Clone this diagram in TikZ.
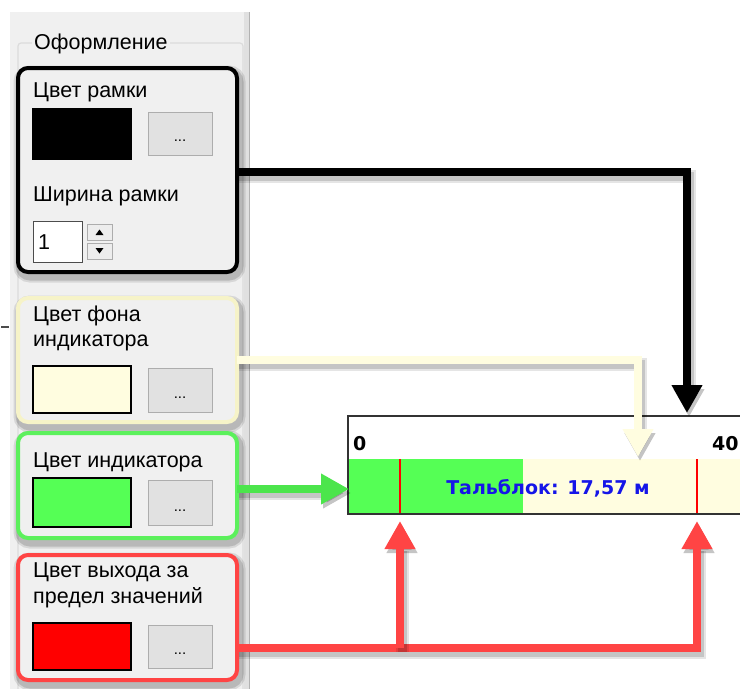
\documentclass[tikz,border=0pt]{standalone}
\usepackage{fontspec}
\setmainfont{Liberation Sans}
\newfontfamily\barfont{DejaVu Sans}
\usetikzlibrary{arrows.meta}
\definecolor{panelbg}{HTML}{F0F0F0}
\definecolor{grpline}{HTML}{DCDCDC}
\definecolor{btnfill}{HTML}{E1E1E1}
\definecolor{btnline}{HTML}{ADADAD}
\definecolor{creamc}{HTML}{FFFDE0}
\definecolor{creamline}{HTML}{F6F3C8}
\definecolor{greenc}{HTML}{55FF55}
\definecolor{greenline}{HTML}{5CF05C}
\definecolor{redline}{HTML}{FF4444}
\definecolor{bluetxt}{HTML}{1515E8}
\tikzset{
  shd/.style={
    preaction={draw=black,opacity=.10,line width=13pt,transform canvas={shift={(2pt,-4pt)}}},
    preaction={draw=black,opacity=.14,line width=9pt,transform canvas={shift={(2pt,-4pt)}}}},
  hbox/.style={rounded corners=10pt,line width=4pt,shd},
  swatch/.style={draw=black,line width=1.2pt},
  btn/.style={draw=btnline,fill=btnfill,line width=1pt},
  lbl/.style={anchor=west,inner sep=0pt,font=\fontsize{21.5}{23}\selectfont},
  dots/.style={inner sep=0pt,font=\fontsize{15}{15}\selectfont},
  conn/.style={line width=8pt,shd},
  tip/.style={-{Triangle[width=29pt,length=28pt]}},
  barlbl/.style={inner sep=0pt,font=\barfont\bfseries\fontsize{19}{19}\selectfont},
}
\begin{document}
\begin{tikzpicture}[x=1pt,y=-1pt]
\useasboundingbox (0,0) rectangle (740,689);
% panel
\fill[panelbg] (10,12) rectangle (248,689);
\fill[black!12] (244,12) rectangle (250,689);
\draw[black!30,line width=1pt] (249,12) -- (249,689);
\draw[black!70,line width=1.5pt] (1,327) -- (9,327);
% group frame
\draw[grpline,line width=1.2pt,rounded corners=3pt] (18,689) -- (18,43) -- (243,43) -- (243,689);
\node[lbl,fill=panelbg,inner xsep=2pt] (grp) at (32,44) {Оформление};
% boxes
\draw[hbox,draw=black,fill=panelbg] (18,68) rectangle (237,272);
\coordinate (b1) at (237,172);
\draw[hbox,draw=creamline,fill=panelbg] (18,298) rectangle (237,422);
\coordinate (b2) at (237,360);
\draw[hbox,draw=greenline,fill=panelbg] (18,433) rectangle (237,538);
\coordinate (b3) at (237,489);
\draw[hbox,draw=redline,fill=panelbg] (18,555) rectangle (237,680);
\coordinate (b4) at (237,648);
% box 1 content
\node[lbl] (t1) at (33,92) {Цвет рамки};
\draw[swatch,fill=black] (33,109) rectangle (131,159);
\draw[btn] (148,112) rectangle (212,155);
\node[dots] (d1) at (180,141) {...};
\node[lbl] (t2) at (33,196) {Ширина рамки};
\draw[draw=black!70,fill=white,line width=1pt] (33,221) rectangle (82,262);
\node[lbl,anchor=west] (one) at (38,242) {1};
\draw[btn,fill=black!7] (87,224) rectangle (112,240);
\draw[btn,fill=black!7] (87,243) rectangle (112,259);
\fill[black] (95.5,235) -- (103.5,235) -- (99.5,229.5) -- cycle;
\fill[black] (95.5,248) -- (103.5,248) -- (99.5,253.5) -- cycle;
% box 2
\node[lbl] (t3) at (33,316) {Цвет фона};
\node[lbl] (t4) at (33,343) {индикатора};
\draw[swatch,fill=creamc] (33,366) rectangle (131,413);
\draw[btn] (148,368) rectangle (212,412);
\node[dots] (d2) at (180,398) {...};
% box 3
\node[lbl] (t5) at (33,462) {Цвет индикатора};
\draw[swatch,fill=greenc] (33,478) rectangle (131,527);
\draw[btn] (148,480) rectangle (212,525);
\node[dots] (d3) at (180,511) {...};
% box 4
\node[lbl] (t6) at (33,572) {Цвет выхода за};
\node[lbl] (t7) at (33,598) {предел значений};
\draw[swatch,fill=red] (33,623) rectangle (131,670);
\draw[btn] (148,625) rectangle (212,668);
\node[dots] (d4) at (180,654) {...};
% indicator
\fill[white] (348,416) rectangle (745,514);
\fill[greenc] (349,459) rectangle (523,514);
\fill[creamc] (523,459) rectangle (745,514);
\draw[red,line width=1.5pt] (400,459) -- (400,514);
\draw[red,line width=1.5pt] (697,459) -- (697,514);
\draw[black!80,line width=1.5pt] (745,416) -- (348,416) -- (348,514) -- (745,514);
\node[barlbl,anchor=west] (zero) at (353,444) {0};
\node[barlbl,anchor=west] (forty) at (712,444) {40};
\node[barlbl,text=bluetxt] (val) at (548,488) {Тальблок: 17,57 м};
\coordinate (topend) at (687,413);
\coordinate (creamend) at (638,457);
\coordinate (greenend) at (349,489);
\coordinate (redA) at (400,521);
\coordinate (redB) at (697,521);
% connectors
\draw[conn,tip,draw=black] (b1) -- (b1 -| topend) -- (topend);
\draw[conn,tip,draw=creamc] (b2) -- (b2 -| creamend) -- (creamend);
\draw[conn,tip,draw=greenc!90!black] (b3) -- (greenend);
\draw[conn,tip,draw=redline] (b4) -- (b4 -| redB) -- (redB);
\draw[conn,tip,draw=redline] (b4 -| redA) -- (redA);
\end{tikzpicture}
\end{document}
